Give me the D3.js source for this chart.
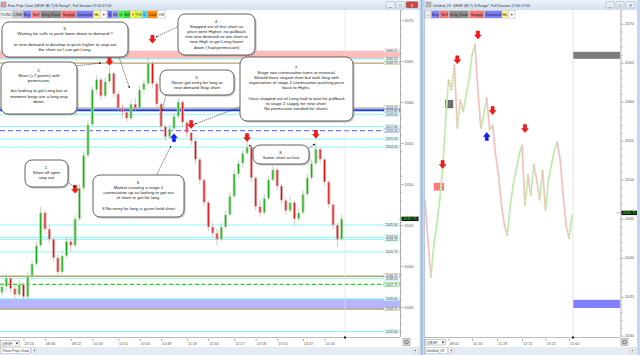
<!DOCTYPE html>
<html><head><meta charset="utf-8">
<script src="https://cdn.jsdelivr.net/npm/d3@7"></script>
<style>
body{margin:0;background:#fff;overflow:hidden}
svg{display:block;font-family:"Liberation Sans",Arial,sans-serif}
</style></head>
<body><svg id="c" width="640" height="355"></svg>
<script>
// ---------------- DATA ----------------
// left chart: 8-tick range bars
const opens  = [2036.75,2037.5,2038.5,2037.25,2036.5,2037.75,2036.25,2038.75,2040.25,2042.5,2046.5,2044.5,2043.25,2041,2039.25,2041.25,2043,2042.5,2045.75,2049.5,2053.5,2057.25,2061.5,2062.75,2060.75,2062.5,2063.5,2061,2059.25,2058.75,2058,2059.75,2059.25,2061.5,2062.25,2064.75,2062.25,2059.75,2057,2055.75,2056.75,2058.25,2060,2057.5,2056.25,2055.25,2053,2050.5,2047.75,2044.75,2044,2043.25,2044.75,2046.25,2048.5,2051.25,2052.5,2053.75,2054.5,2050.75,2047.25,2046.5,2048.25,2050.5,2051.75,2049.75,2048,2046.75,2047.75,2045.75,2046.5,2048.75,2050.75,2052.5,2054.25,2053,2050.25,2047.5,2045,2043.25];
const highs  = [2038,2039,2038.75,2037.75,2038.25,2038,2039.25,2040.75,2043,2047.25,2046.75,2045,2043.5,2041.5,2041.75,2043.5,2043.5,2046.25,2050,2054,2057.75,2062,2063.25,2063,2063,2064.25,2063.75,2061.25,2059.75,2059,2060.25,2060.5,2062,2062.75,2065.5,2065,2062.5,2060,2057.25,2057.25,2058.75,2060.5,2060.25,2057.75,2056.5,2055.5,2053.25,2050.75,2048,2045.25,2044.5,2045.25,2046.75,2049,2051.75,2053,2054.25,2055.25,2054.75,2051,2048,2048.75,2051,2052.25,2052,2050,2048.25,2048.5,2048,2047,2049.25,2051.25,2053,2055,2054.5,2053.25,2050.5,2047.75,2045.25,2046.25];
const lows   = [2036.25,2037,2036.75,2036,2036.25,2035.75,2036,2038.5,2040,2042.25,2044,2042.75,2040.5,2038.75,2039,2041,2041.75,2042.25,2045.5,2049.25,2053.25,2057,2061,2060.25,2060.5,2062.25,2060.5,2058.75,2058,2057.5,2057.75,2058.75,2059,2061,2062,2061.75,2059.25,2056.5,2055.25,2055.5,2056.5,2058,2057,2055.75,2054.75,2052.5,2050,2047.25,2044.25,2043.5,2042.5,2043,2044.5,2046,2048.25,2050.75,2052,2053.5,2050.25,2046.75,2046,2046.25,2048,2050.25,2049.25,2047.5,2046.25,2046.5,2045,2045.5,2046.25,2048.5,2050.5,2052.25,2052.5,2049.75,2047,2044.5,2042.25,2043];
const closes = [2037.5,2038.5,2037.25,2036.5,2037.75,2036.25,2038.75,2040.25,2042.5,2046.5,2044.5,2043.25,2041,2039.25,2041.25,2043,2042.5,2045.75,2049.5,2053.5,2057.25,2061.5,2062.75,2060.75,2062.5,2063.5,2061,2059.25,2058.75,2058,2059.75,2059.25,2061.5,2062.25,2064.75,2062.25,2059.75,2057,2055.75,2056.75,2058.25,2060,2057.5,2056.25,2055.25,2053,2050.5,2047.75,2044.75,2044,2043.25,2044.75,2046.25,2048.5,2051.25,2052.5,2053.75,2054.5,2050.75,2047.25,2046.5,2048.25,2050.5,2051.75,2049.75,2048,2046.75,2047.75,2045.75,2046.5,2048.75,2050.75,2052.5,2054.25,2053,2050.25,2047.5,2045,2043.25,2045.75];
const lastPrice = 2045.75;

// horizontal levels (left chart)
const levelPrices = [2066.25,2065.25,2064.75,2059.25,2059.00,2058.50,2057.00,2056.50,2055.50,2054.50,2045.00,2043.50,2043.25,2041.75,2038.75,2038.50,2037.75,2036.00,2034.75,2032.00];
const levelKinds  = ["zone","cyan","olive","tan","blue","cyan","cyan","dash","cyan","cyan","cyan","cyan","cyan","cyanw","olive","cyan","green","cyan","olive","cyan"];
const supplyZone = [2066.25, 2065.25];
const demandZone = [2036.00, 2034.75];

// trade signals (left)
const shortIdxL = [17, 25, 35, 44, 57, 73];
const shortPxL  = [2049.3, 2064.9, 2067.6, 2057.2, 2055.6, 2056.0];
const longIdxL  = [40];
const longPxL   = [2055.7];

// time axis (left)
const timeTickIdxL = [5,10,16,21,27,32,37,43,48,54,59,64,70,75];
const timeLabelsL  = ["23:16","08:40","09:22","10:03","10:11","10:16","10:49","11:18","11:44","12:17","13:18","13:50","14:47","15:45"];

// right chart (3-tick range, compressed)
const miniPrices = [2047.4,2042.3,2037.5,2041.6,2044.2,2047.4,2051.2,2057.6,2062.8,2061.5,2064.7,2056.6,2060.2,2058.7,2060.9,2062.8,2066.0,2067.3,2061.5,2056.6,2058.3,2060.5,2056.4,2057.0,2053.2,2050.6,2046.7,2044.2,2042.9,2046.7,2049.3,2051.2,2053.2,2054.4,2046.7,2050.6,2048.0,2051.9,2050.0,2047.4,2051.2,2046.1,2050.0,2051.9,2053.8,2054.8,2052.5,2048.0,2044.2,2042.5,2045.5];
const shortIdxR = [6, 11, 18, 23, 34];
const shortPxR  = [2051.9, 2065.3, 2068.5, 2058.8, 2056.5];
const longIdxR  = [21];
const longPxR   = [2055.6];
const sellBoxR  = [3, 6.5, 2049.6, 2048.6];
const greyBoxR  = [7, 9.5, 2060.2, 2059.2];
const greyZoneR = [2066.4, 2065.5];
const demandZoneR = [2034.6, 2033.55];
const timeTickIdxR = [8, 16, 24.5, 33, 41, 49];
const timeLabelsR  = ["09:02","10:16","11:29","12:15","13:25","15:00"];

// annotations
const notes = [
  {lines:["3.","Waiting for sells to push lower down to demand ?","","or new demand to develop to push higher to stop out","the short so I can get Long."]},
  {lines:["2.","Short (+7 points) with","permission,","","but looking to get Long but at","moment longs are a long way","down."]},
  {lines:["1.","Short off open","stop out"]},
  {lines:["4.","Stopped out of first short as","price went Higher, no pullback","into new demand so too short at","new High to get Long lower","down ( had permission)"]},
  {lines:["5.","Never got entry for long at","new demand Stay short"]},
  {lines:["6.","Market creating a stage 2","continuation up so looking to get out","of short to get  for long.","","If No entry for long is given hold short"]},
  {lines:["7.","Stage two continuation turns to reversal,","Should have stayed short but took long with","expectation of stage 2 continuation pushing price","back to Highs.","","Once stopped out of Long had to wait for pullback","to stage 2 supply for new short.","No permission needed for shorts."]},
  {lines:["8.","Same short as last"]}
];

// ---------------- LAYOUT (annotation chrome) ----------------
const noteBoxes = [[2,22,126,35,28.5],[1,62,76,52,70],[25,160,43,27,167],[178,14,77,41,21],[160,70,74,25,77],[93,175,91,42,182],[240,57,113,64,67],[253,145,56,19,152]];
const noteArrows = [[118,54,129.5,88],[75,66,101,63],[67,182,75,187],[177,27,156,37],[166,95,162,111],[157,174,171,146],[240,107,195,124],[256,150,249,145],[306,150,315,144]];

const svg = d3.select("#c");
const FONT = '"Liberation Sans",Arial,sans-serif';
const defs = svg.append("defs");
const tg = defs.append("linearGradient").attr("id","tb").attr("x1",0).attr("y1",0).attr("x2",0).attr("y2",1);
tg.append("stop").attr("offset",0).attr("stop-color","#edf3fa");
tg.append("stop").attr("offset",1).attr("stop-color","#d2e0f0");
defs.append("clipPath").attr("id","clipL").append("rect").attr("x",0).attr("y",10).attr("width",400).attr("height",327);
defs.append("clipPath").attr("id","clipR").append("rect").attr("x",425).attr("y",10).attr("width",195).attr("height",327);
defs.append("marker").attr("id","ah").attr("viewBox","0 0 6 6").attr("refX",5).attr("refY",3)
  .attr("markerWidth",3.5).attr("markerHeight",3.5).attr("orient","auto")
  .append("path").attr("d","M0,0L6,3L0,6Z").attr("fill","#111");

svg.append("rect").attr("width",640).attr("height",355).attr("fill","#fff");

// ---------------- SCALES ----------------
const yL = d3.scaleLinear().domain([2065,2035]).range([61,307]);
const xL = d3.scaleLinear().domain([0,79]).range([2,341.7]);
const yR = d3.scaleLinear().domain([2065,2035]).range([62.7,296.7]);
const xR = d3.scaleLinear().domain([0,50]).range([425,572]);

const levelStyle = {
  zone:{s:"#ffb0b0",w:0.6},
  cyan:{s:"#8ef4f4",w:1},
  cyanw:{s:"#c4f8f8",w:2},
  olive:{s:"#b8a468",w:1.3},
  tan:{s:"#a8a488",w:1.3},
  blue:{s:"#1a3cff",w:2},
  dash:{s:"#7a7aff",w:1.3,d:"5,3"},
  green:{s:"#10dd10",w:1.3,d:"4,2.5"}
};

function arrowPath(up){
  return up ? "M-1.6,4.5H1.6V0.5H3.4L0,-3.5L-3.4,0.5H-1.6Z"
            : "M-1.6,-4.5H1.6V-0.5H3.4L0,3.5L-3.4,-0.5H-1.6Z";
}

// ================= LEFT WINDOW =================
const pL = svg.append("g").attr("clip-path","url(#clipL)");
pL.append("rect").attr("x",0).attr("width",400)
  .attr("y",yL(supplyZone[0])).attr("height",yL(supplyZone[1])-yL(supplyZone[0])).attr("fill","#ffbcbc");
pL.append("rect").attr("x",0).attr("width",400)
  .attr("y",yL(demandZone[0])).attr("height",yL(demandZone[1])-yL(demandZone[0])).attr("fill","#b6b6ff");
pL.selectAll("line.lvl").data(levelPrices.map((p,i)=>({p,k:levelKinds[i]})).filter(d=>d.k!=="zone"))
  .join("line").attr("class","lvl")
  .attr("x1",0).attr("x2",400).attr("y1",d=>yL(d.p)).attr("y2",d=>yL(d.p))
  .attr("stroke",d=>levelStyle[d.k].s).attr("stroke-width",d=>levelStyle[d.k].w)
  .attr("stroke-dasharray",d=>levelStyle[d.k].d||null);

pL.append("line").attr("x1",xL(79)+3.3).attr("x2",xL(79)+3.3).attr("y1",10).attr("y2",337)
  .attr("stroke","#e2e2e2").attr("stroke-width",0.8);

const barData = closes.map((c,i)=>({i,o:opens[i],h:highs[i],l:lows[i],c}));
const gB = pL.append("g");
gB.selectAll("line.wk").data(barData).join("line").attr("class","wk")
  .attr("x1",d=>xL(d.i)).attr("x2",d=>xL(d.i)).attr("y1",d=>yL(d.h)).attr("y2",d=>yL(d.l))
  .attr("stroke","#b4b4b4").attr("stroke-width",0.7);
gB.selectAll("rect.bd").data(barData).join("rect").attr("class","bd")
  .attr("x",d=>xL(d.i)-1.5).attr("width",3)
  .attr("y",d=>yL(Math.max(d.o,d.c))).attr("height",d=>Math.max(1,Math.abs(yL(d.o)-yL(d.c))))
  .attr("fill",d=>d.c>=d.o?"#a9d9a0":"#e3a4a4");
gB.selectAll("line.core").data(barData).join("line").attr("class","core")
  .attr("x1",d=>xL(d.i)).attr("x2",d=>xL(d.i))
  .attr("y1",d=>yL(Math.max(d.o,d.c))+0.5).attr("y2",d=>yL(Math.min(d.o,d.c))-0.5)
  .attr("stroke",d=>d.c>=d.o?"#0aa80a":"#e01010").attr("stroke-width",1);

pL.selectAll("path.sh").data(shortIdxL.map((i,k)=>({i,p:shortPxL[k]}))).join("path")
  .attr("transform",d=>`translate(${xL(d.i)},${yL(d.p)})`).attr("d",arrowPath(false))
  .attr("fill","#ff1414").attr("stroke","#a00000").attr("stroke-width",0.4);
pL.selectAll("path.lg").data(longIdxL.map((i,k)=>({i,p:longPxL[k]}))).join("path")
  .attr("transform",d=>`translate(${xL(d.i)},${yL(d.p)})`).attr("d",arrowPath(true))
  .attr("fill","#1020ff").attr("stroke","#000090").attr("stroke-width",0.4);

noteArrows.forEach(a=>{
  svg.append("line").attr("x1",a[0]).attr("y1",a[1]).attr("x2",a[2]).attr("y2",a[3])
    .attr("stroke","#222").attr("stroke-width",0.6).attr("stroke-dasharray","1.4,0.8")
    .attr("marker-end","url(#ah)");
});
notes.forEach((n,k)=>{
  const [x,y,w,h,ty] = noteBoxes[k];
  const g = svg.append("g");
  g.append("rect").attr("x",x+1.6).attr("y",y+1.6).attr("width",w).attr("height",h).attr("rx",7)
    .attr("fill","#9a9a9a").attr("opacity",0.55);
  g.append("rect").attr("x",x).attr("y",y).attr("width",w).attr("height",h).attr("rx",7)
    .attr("fill","#fff").attr("stroke","#3a3a3a").attr("stroke-width",0.8);
  g.selectAll("text").data(n.lines).join("text")
    .attr("x",x+w/2).attr("y",(d,i)=>ty+i*5.2+1.5).attr("text-anchor","middle")
    .attr("font-size",4.4).attr("fill","#1a1a1a").attr("font-family",FONT).text(d=>d);
});

// price axis (left)
const yAxL = yL.copy().domain([yL.invert(10), yL.invert(337)]).range([10,337]);
const gAL = svg.append("g").attr("transform","translate(400,0)")
  .call(d3.axisRight(yAxL).tickValues(d3.range(2032,2071)).tickSizeOuter(0).tickSize(2)
        .tickFormat(d=>d%5===0?String(d):""));
gAL.select(".domain").attr("stroke","#9a9a9a").attr("stroke-width",0.8);
gAL.selectAll(".tick line").attr("stroke","#9a9a9a").attr("stroke-width",0.6).attr("x2",d=>d%5===0?4:2);
gAL.selectAll(".tick text").attr("x",4.6).attr("font-size",4).attr("fill","#555").attr("font-family",FONT);

// level labels, dodged so close prices stack without overlapping
const lblG = svg.append("g");
const lblItems = levelPrices.map((p,i)=>({p,k:levelKinds[i],y:yL(p)})).sort((a,b)=>a.y-b.y);
const LH = 3.6;
for(let i=1;i<lblItems.length;i++){
  if(lblItems[i].y - lblItems[i-1].y < LH){
    // push pair apart symmetrically
    const mid = (lblItems[i].y + lblItems[i-1].y)/2;
    lblItems[i-1].y = Math.min(lblItems[i-1].y, mid - LH/2);
    lblItems[i].y = lblItems[i-1].y + LH;
  }
}
lblItems.forEach(d=>{
  const st = levelStyle[d.k];
  lblG.append("rect").attr("x",384).attr("y",d.y-LH/2).attr("width",15.5).attr("height",LH)
    .attr("fill","#eefafa").attr("stroke",st.s).attr("stroke-width",0.4);
  lblG.append("text").attr("x",391.75).attr("y",d.y+1.15).attr("text-anchor","middle")
    .attr("font-size",3.3).attr("fill","#444").attr("font-family",FONT).text(d.p.toFixed(2));
});
svg.append("line").attr("x1",399.5).attr("x2",401).attr("y1",yL(lastPrice)).attr("y2",yL(lastPrice))
  .attr("stroke","#0c0").attr("stroke-width",0.8);
svg.append("rect").attr("x",401.5).attr("y",yL(lastPrice)-2.2).attr("width",17).attr("height",4.4).attr("fill","#111");
svg.append("text").attr("x",410).attr("y",yL(lastPrice)+1.4).attr("text-anchor","middle")
  .attr("font-size",3.9).attr("fill","#3f3").attr("font-family",FONT).text(lastPrice.toFixed(2));

// time axis (left)
svg.append("rect").attr("x",0).attr("y",337).attr("width",420).attr("height",10).attr("fill","#fff");
svg.append("line").attr("x1",0).attr("x2",400).attr("y1",337.5).attr("y2",337.5).attr("stroke","#a8a8a8").attr("stroke-width",0.8);
const gTL = svg.append("g").attr("transform","translate(0,339)")
  .call(d3.axisBottom(xL).tickValues(timeTickIdxL).tickSize(1.5).tickFormat((d,i)=>timeLabelsL[i]));
gTL.select(".domain").remove();
gTL.selectAll(".tick line").attr("stroke","#888");
gTL.selectAll(".tick text").attr("text-anchor","start").attr("x",0.5).attr("y",3.5)
  .attr("font-size",3.7).attr("fill","#555").attr("font-family",FONT);
svg.append("rect").attr("x",0.5).attr("y",340.5).attr("width",19).attr("height",5.5).attr("fill","#fff").attr("stroke","#999").attr("stroke-width",0.5);
svg.append("text").attr("x",2).attr("y",344.6).attr("font-size",3.5).attr("fill","#333").attr("font-family",FONT).text("@ESF");
svg.append("path").attr("d","M15.5,342.5h3l-1.5,2z").attr("fill","#333");
svg.append("rect").attr("x",403).attr("y",338.5).attr("width",7).attr("height",7).attr("fill","#d8d8d8").attr("stroke","#888").attr("stroke-width",0.5);
svg.append("circle").attr("cx",406.5).attr("cy",342).attr("r",1.8).attr("fill","none").attr("stroke","#444").attr("stroke-width",0.7);
svg.append("rect").attr("x",xL(79)+2.3).attr("y",336.5).attr("width",2).attr("height",2).attr("fill","#111");
svg.append("rect").attr("x",0).attr("y",347).attr("width",420).attr("height",8).attr("fill","#e4ebf3");
svg.append("rect").attr("x",0.5).attr("y",347.5).attr("width",30).attr("height",6).attr("fill","#fff").attr("stroke","#9ab").attr("stroke-width",0.4);
svg.append("text").attr("x",2).attr("y",351.8).attr("font-size",3.5).attr("fill","#333").attr("font-family",FONT).text("Three Prop Chart");
svg.append("rect").attr("x",31.5).attr("y",348).attr("width",4.5).attr("height",5).attr("fill","#f4f4f4").attr("stroke","#aaa").attr("stroke-width",0.3);
svg.append("path").attr("d","M34.8,349.4v2.2l-1.6,-1.1z").attr("fill","#555");
svg.append("rect").attr("x",413).attr("y",348).attr("width",5).attr("height",5).attr("fill","#f4f4f4").attr("stroke","#aaa").attr("stroke-width",0.3);
svg.append("path").attr("d","M414.8,349.4v2.2l1.6,-1.1z").attr("fill","#555");

// ================= RIGHT WINDOW =================
const pR = svg.append("g").attr("clip-path","url(#clipR)");
const nowXR = xR(50)+1;
pR.append("rect").attr("x",nowXR).attr("width",620-nowXR)
  .attr("y",yR(greyZoneR[0])).attr("height",yR(greyZoneR[1])-yR(greyZoneR[0])).attr("fill","#7c7c7c");
pR.append("rect").attr("x",nowXR).attr("width",620-nowXR)
  .attr("y",yR(demandZoneR[0])).attr("height",yR(demandZoneR[1])-yR(demandZoneR[0])).attr("fill","#7f7fff");
pR.append("line").attr("x1",nowXR).attr("x2",nowXR).attr("y1",10).attr("y2",337).attr("stroke","#dcdcdc").attr("stroke-width",0.8);
pR.append("rect").attr("x",xR(sellBoxR[0])).attr("width",xR(sellBoxR[1])-xR(sellBoxR[0]))
  .attr("y",yR(sellBoxR[2])).attr("height",yR(sellBoxR[3])-yR(sellBoxR[2])).attr("fill","#ff7b7b");
pR.append("rect").attr("x",xR(greyBoxR[0])).attr("width",xR(greyBoxR[1])-xR(greyBoxR[0]))
  .attr("y",yR(greyBoxR[2])).attr("height",yR(greyBoxR[3])-yR(greyBoxR[2])).attr("fill","#707070")
  .attr("stroke","#333").attr("stroke-width",0.4);
const segs = miniPrices.slice(1).map((p,k)=>({k:k+1,a:miniPrices[k],b:p}));
pR.selectAll("line.ms").data(segs).join("line").attr("class","ms")
  .attr("x1",d=>xR(d.k-1)).attr("x2",d=>xR(d.k)).attr("y1",d=>yR(d.a)).attr("y2",d=>yR(d.b))
  .attr("stroke",d=>d.b>=d.a?"#c8f2bd":"#f9c9c9").attr("stroke-width",1.8).attr("stroke-linecap","round");
pR.selectAll("line.mc").data(segs).join("line").attr("class","mc")
  .attr("x1",d=>xR(d.k-1)).attr("x2",d=>xR(d.k)).attr("y1",d=>yR(d.a)).attr("y2",d=>yR(d.b))
  .attr("stroke",d=>d.b>=d.a?"#79d048":"#e69a78").attr("stroke-width",0.5).attr("stroke-dasharray","1.2,1.8");
pR.selectAll("path.sh").data(shortIdxR.map((i,k)=>({i,p:shortPxR[k]}))).join("path")
  .attr("transform",d=>`translate(${xR(d.i)},${yR(d.p)})`).attr("d",arrowPath(false))
  .attr("fill","#ff1414").attr("stroke","#a00000").attr("stroke-width",0.4);
pR.selectAll("path.lg").data(longIdxR.map((i,k)=>({i,p:longPxR[k]}))).join("path")
  .attr("transform",d=>`translate(${xR(d.i)},${yR(d.p)})`).attr("d",arrowPath(true))
  .attr("fill","#1020ff").attr("stroke","#000090").attr("stroke-width",0.4);

const yAxR = yR.copy().domain([yR.invert(10), yR.invert(337)]).range([10,337]);
const gAR = svg.append("g").attr("transform","translate(620.5,0)")
  .call(d3.axisRight(yAxR).tickValues(d3.range(2030,2072)).tickSizeOuter(0).tickSize(2)
        .tickFormat(d=>d%5===0?String(d):""));
gAR.select(".domain").attr("stroke","#9a9a9a").attr("stroke-width",0.8);
gAR.selectAll(".tick line").attr("stroke","#9a9a9a").attr("stroke-width",0.6).attr("x2",d=>d%5===0?4:2);
gAR.selectAll(".tick text").attr("x",4.6).attr("font-size",4).attr("fill","#555").attr("font-family",FONT);
svg.append("line").attr("x1",617).attr("x2",621).attr("y1",yR(lastPrice)).attr("y2",yR(lastPrice))
  .attr("stroke","#0c0").attr("stroke-width",0.8).attr("stroke-dasharray","1,1");
svg.append("rect").attr("x",621.5).attr("y",yR(lastPrice)-2.2).attr("width",16).attr("height",4.4).attr("fill","#111");
svg.append("text").attr("x",629.5).attr("y",yR(lastPrice)+1.4).attr("text-anchor","middle")
  .attr("font-size",3.8).attr("fill","#3f3").attr("font-family",FONT).text(lastPrice.toFixed(2));

svg.append("rect").attr("x",425).attr("y",337).attr("width",212).attr("height",10).attr("fill","#fff");
svg.append("line").attr("x1",425).attr("x2",620).attr("y1",337.5).attr("y2",337.5).attr("stroke","#a8a8a8").attr("stroke-width",0.8);
const gTR = svg.append("g").attr("transform","translate(0,339)")
  .call(d3.axisBottom(xR).tickValues(timeTickIdxR).tickSize(1.5).tickFormat((d,i)=>timeLabelsR[i]));
gTR.select(".domain").remove();
gTR.selectAll(".tick line").attr("stroke","#888");
gTR.selectAll(".tick text").attr("text-anchor","start").attr("x",0.5).attr("y",3.5)
  .attr("font-size",3.7).attr("fill","#555").attr("font-family",FONT);
svg.append("rect").attr("x",425.5).attr("y",339.5).attr("width",20).attr("height",5.5).attr("fill","#fff").attr("stroke","#999").attr("stroke-width",0.5);
svg.append("text").attr("x",427).attr("y",343.6).attr("font-size",3.5).attr("fill","#333").attr("font-family",FONT).text("@ESF");
svg.append("path").attr("d","M441.5,341.5h3l-1.5,2z").attr("fill","#333");
svg.append("rect").attr("x",621).attr("y",338.5).attr("width",7).attr("height",7).attr("fill","#d8d8d8").attr("stroke","#888").attr("stroke-width",0.5);
svg.append("circle").attr("cx",624.5).attr("cy",342).attr("r",1.8).attr("fill","none").attr("stroke","#444").attr("stroke-width",0.7);
svg.append("rect").attr("x",nowXR-1).attr("y",336.5).attr("width",2).attr("height",2).attr("fill","#111");
svg.append("rect").attr("x",425).attr("y",347).attr("width",212).attr("height",8).attr("fill","#e4ebf3");
svg.append("rect").attr("x",425.5).attr("y",347.5).attr("width",22).attr("height",6).attr("fill","#fff").attr("stroke","#9ab").attr("stroke-width",0.4);
svg.append("text").attr("x",426.5).attr("y",351.8).attr("font-size",3.5).attr("fill","#333").attr("font-family",FONT).text("Untitled_19");
svg.append("rect").attr("x",448.5).attr("y",348).attr("width",4.5).attr("height",5).attr("fill","#f4f4f4").attr("stroke","#aaa").attr("stroke-width",0.3);
svg.append("path").attr("d","M451.8,349.4v2.2l-1.6,-1.1z").attr("fill","#555");
svg.append("rect").attr("x",630).attr("y",348).attr("width",5).attr("height",5).attr("fill","#f4f4f4").attr("stroke","#aaa").attr("stroke-width",0.3);
svg.append("path").attr("d","M631.8,349.4v2.2l1.6,-1.1z").attr("fill","#555");

// ================= CHROME =================
svg.append("rect").attr("x",0).attr("y",0).attr("width",640).attr("height",10).attr("fill","url(#tb)");
svg.append("rect").attr("x",1).attr("y",2).attr("width",5).attr("height",5).attr("fill","#d99").attr("stroke","#777").attr("stroke-width",0.4);
svg.append("text").attr("x",8).attr("y",6.5).attr("font-size",3.5).attr("fill","#333").attr("font-family",FONT)
  .text("Free Prop Chart @ESF (B/-?) 8t Range*, Full Session 17:00-17:00");
svg.append("rect").attr("x",426).attr("y",2).attr("width",5).attr("height",5).attr("fill","#bbb").attr("stroke","#777").attr("stroke-width",0.4);
svg.append("text").attr("x",433).attr("y",6.5).attr("font-size",3.5).attr("fill","#333").attr("font-family",FONT)
  .text("Untitled_19: @ESF (B/-?) 3t Range*, Full Session 17:00-17:00");
[[386,395,"#e8eef6","_"],[396,405,"#e8eef6","□"],[406,418,"#c9483e","x"],[606,614,"#e8eef6","_"],[616,624,"#e8eef6","□"],[626,635,"#e8eef6","x"]].forEach(b=>{
  svg.append("rect").attr("x",b[0]).attr("y",1.5).attr("width",b[1]-b[0]).attr("height",6.5).attr("rx",1)
    .attr("fill",b[2]).attr("stroke","#8a9ab0").attr("stroke-width",0.4);
  svg.append("text").attr("x",(b[0]+b[1])/2).attr("y",6.6).attr("text-anchor","middle").attr("font-size",4.5)
    .attr("fill",b[2]==="#c9483e"?"#fff":"#445").attr("font-family",FONT).text(b[3]);
});

const btnL = [["TLINC",0,12.5,"#f2f2f2","#333"],["LINE",13,22.8,"#c9c9c9","#333"],["Buy",23.3,31,"#8585ff","#222"],["Sell",31.5,40,"#ff8585","#222"],["Grey Zone",40.5,61,"#8e8e8e","#222"],["Supply",61.5,76,"#ff7474","#222"],["Demand",76.5,93,"#7c7cff","#222"],["HL",93.5,100,"#ffff80","#222"],["+",100.5,107,"#ffffff","#e00"],["6",107.5,112,"#6f6fff","#222"],["60",112.5,118,"#9494ff","#222"],["G",118.5,123,"#3cff3c","#222"],["GG",123.5,130,"#38e038","#222"],["Y",130.5,135,"#ffff3c","#222"],["YG",135.5,142,"#ccff44","#222"],["C",142.5,147,"#40dcff","#222"],["Cust",147.5,157,"#ff8a00","#222"],["Off",157.5,165,"#ffffff","#222"]];
const btnR = [["–",425.5,430.5,"#eeeeee","#333"],["Buy",431.5,439.5,"#8585ff","#222"],["Sell",440,448.5,"#ff7474","#222"],["Grey Zone",449.3,468.5,"#8e8e8e","#222"],["Supply",469.5,484,"#ff7474","#222"],["Demand",484.8,501.8,"#7c7cff","#222"],["HL",502.3,507.8,"#ffff80","#222"],["+",508.3,515,"#ffffff","#e00"]];
svg.append("rect").attr("x",0).attr("y",10).attr("width",166).attr("height",9).attr("fill","#f0f0f0");
svg.append("rect").attr("x",425).attr("y",10).attr("width",91).attr("height",9).attr("fill","#f0f0f0");
btnL.concat(btnR).forEach(b=>{
  svg.append("rect").attr("x",b[1]).attr("y",10.8).attr("width",b[2]-b[1]).attr("height",7.2)
    .attr("fill",b[3]).attr("stroke","#aaa").attr("stroke-width",0.3);
  svg.append("text").attr("x",(b[1]+b[2])/2).attr("y",15.8).attr("text-anchor","middle")
    .attr("font-size",b[0]==="+"?6:4).attr("fill",b[4]).attr("font-family",FONT).text(b[0]);
});

svg.append("rect").attr("x",419.5).attr("y",0).attr("width",5.5).attr("height",355).attr("fill","#c6d8ee");
svg.append("line").attr("x1",421.8).attr("x2",421.8).attr("y1",0).attr("y2",355).attr("stroke","#7d9ec8").attr("stroke-width",0.8);
svg.append("line").attr("x1",424.6).attr("x2",424.6).attr("y1",10).attr("y2",355).attr("stroke","#a9b9cc").attr("stroke-width",0.6);
svg.append("rect").attr("x",637).attr("y",0).attr("width",3).attr("height",355).attr("fill","#c6d8ee");
</script></body></html>
